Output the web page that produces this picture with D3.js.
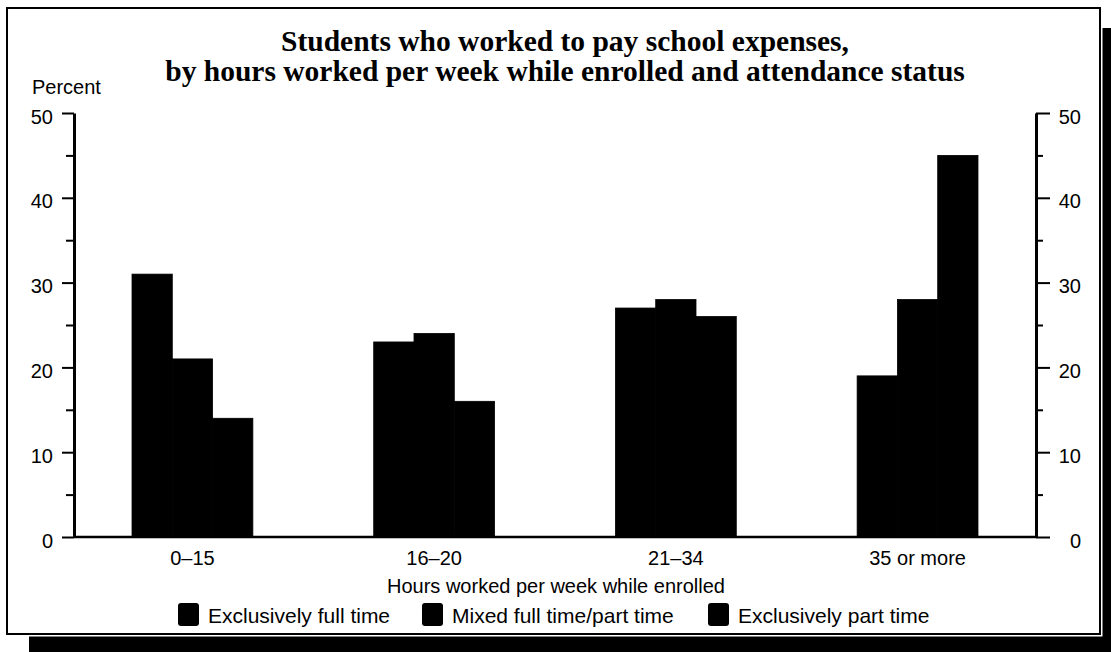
<!DOCTYPE html>
<html>
<head>
<meta charset="utf-8">
<script src="https://cdn.jsdelivr.net/npm/d3@7"></script>
<style>
  html, body { margin: 0; padding: 0; background: #fff; }
  svg { display: block; }
</style>
</head>
<body>
<svg id="chart" width="1111" height="652"></svg>
<script>
// ---- data ----
const categories = ["0–15", "16–20", "21–34", "35 or more"];
const seriesNames = ["Exclusively full time", "Mixed full time/part time", "Exclusively part time"];
const fullTime = [31, 23, 27, 19];
const mixed = [21, 24, 28, 28];
const partTime = [14, 16, 26, 45];
const yTicks = [0, 10, 20, 30, 40, 50];
const yMinorTicks = [5, 15, 25, 35, 45];
const titleLines = ["Students who worked to pay school expenses,", "by hours worked per week while enrolled and attendance status"];
const yLabel = "Percent";
const xLabel = "Hours worked per week while enrolled";

(function () {
const seriesValues = [fullTime, mixed, partTime];
const sans = "'Liberation Sans', Arial, Helvetica, sans-serif";
const serif = "'Liberation Serif', 'Times New Roman', serif";

const svg = d3.select("#chart");

// ---- frame with drop shadow ----
svg.append("rect").attr("x", 29).attr("y", 28).attr("width", 1100).attr("height", 640).attr("fill", "#000");
svg.append("rect").attr("x", 7).attr("y", 8).attr("width", 1093).attr("height", 626)
  .attr("fill", "#fff").attr("stroke", "#fff").attr("stroke-width", 5);
svg.append("rect").attr("x", 7).attr("y", 8).attr("width", 1093).attr("height", 626)
  .attr("fill", "#fff").attr("stroke", "#000").attr("stroke-width", 2);

// ---- scales ----
const pLeft = 74, pRight = 1036, pTop = 113, pBottom = 537;
const y = d3.scaleLinear().domain([0, 50]).range([pBottom, pTop]);
const x0 = d3.scaleBand().domain(categories).range([pLeft, pRight]).paddingInner(0.5).paddingOuter(0.24);
const x1 = d3.scaleBand().domain(seriesNames).range([0, x0.bandwidth()]).padding(0);

// ---- title ----
titleLines.forEach((t, i) => {
  svg.append("text").attr("x", 565).attr("y", 51 + i * 30)
    .attr("text-anchor", "middle").attr("font-family", serif).attr("font-weight", "bold")
    .attr("font-size", 29.5).attr("fill", "#000").text(t);
});

svg.append("text").attr("x", 32).attr("y", 94).attr("font-family", sans).attr("font-size", 20)
  .attr("fill", "#000").text(yLabel);

// ---- bars ----
const groups = svg.append("g").selectAll("g").data(categories).join("g")
  .attr("transform", d => `translate(${x0(d)},0)`);
groups.selectAll("rect")
  .data((c, ci) => seriesNames.map((s, si) => ({ s, v: seriesValues[si][ci] })))
  .join("rect")
  .attr("x", d => x1(d.s))
  .attr("width", x1.bandwidth())
  .attr("y", d => y(d.v))
  .attr("height", d => y(0) - y(d.v))
  .attr("fill", "#000")
  .attr("stroke", "#000")
  .attr("stroke-width", 0.8);

// ---- axes ----
function styleAxis(g) {
  g.selectAll("path").attr("stroke", "#000").attr("stroke-width", 3);
  g.selectAll("line").attr("stroke", "#000").attr("stroke-width", 2);
  g.selectAll("text").attr("font-family", sans).attr("font-size", 20).attr("fill", "#000");
}
const yLeft = svg.append("g").attr("transform", `translate(${pLeft},0)`)
  .call(d3.axisLeft(y).tickValues(yTicks).tickSize(12).tickSizeOuter(0).tickPadding(9));
styleAxis(yLeft);
yLeft.selectAll("text").attr("dy", "0.5em");
const yLeftMinor = svg.append("g").attr("transform", `translate(${pLeft},0)`)
  .call(d3.axisLeft(y).tickValues(yMinorTicks).tickSize(8).tickSizeOuter(0).tickFormat(""));
yLeftMinor.select("path").remove();
styleAxis(yLeftMinor);

const yRight = svg.append("g").attr("transform", `translate(${pRight},0)`)
  .call(d3.axisRight(y).tickValues(yTicks).tickSize(14).tickSizeOuter(0));
styleAxis(yRight);
yRight.selectAll("text").attr("text-anchor", "end").attr("x", 45).attr("dy", "0.5em");
const yRightMinor = svg.append("g").attr("transform", `translate(${pRight},0)`)
  .call(d3.axisRight(y).tickValues(yMinorTicks).tickSize(7).tickSizeOuter(0).tickFormat(""));
yRightMinor.select("path").remove();
styleAxis(yRightMinor);

const xAxis = svg.append("g").attr("transform", `translate(0,${pBottom})`)
  .call(d3.axisBottom(x0).tickSize(0).tickPadding(22));
xAxis.select("path").attr("d", `M${pLeft},0H${pRight}`).attr("stroke", "#000").attr("stroke-width", 2.5);
xAxis.selectAll("text").attr("font-family", sans).attr("font-size", 20).attr("fill", "#000").attr("dy", "0.3em");

svg.append("text").attr("x", 556).attr("y", 593).attr("text-anchor", "middle")
  .attr("font-family", sans).attr("font-size", 20).attr("fill", "#000").text(xLabel);

// ---- legend ----
const legendX = [178, 422, 708];
const legend = svg.append("g").selectAll("g").data(seriesNames).join("g")
  .attr("transform", (d, i) => `translate(${legendX[i]},603)`);
legend.append("rect").attr("width", 21).attr("height", 23).attr("rx", 3).attr("fill", "#000");
legend.append("text").attr("x", 30).attr("y", 20).attr("font-family", sans).attr("font-size", 21)
  .attr("fill", "#000").text(d => d);
})();
</script>
</body>
</html>
